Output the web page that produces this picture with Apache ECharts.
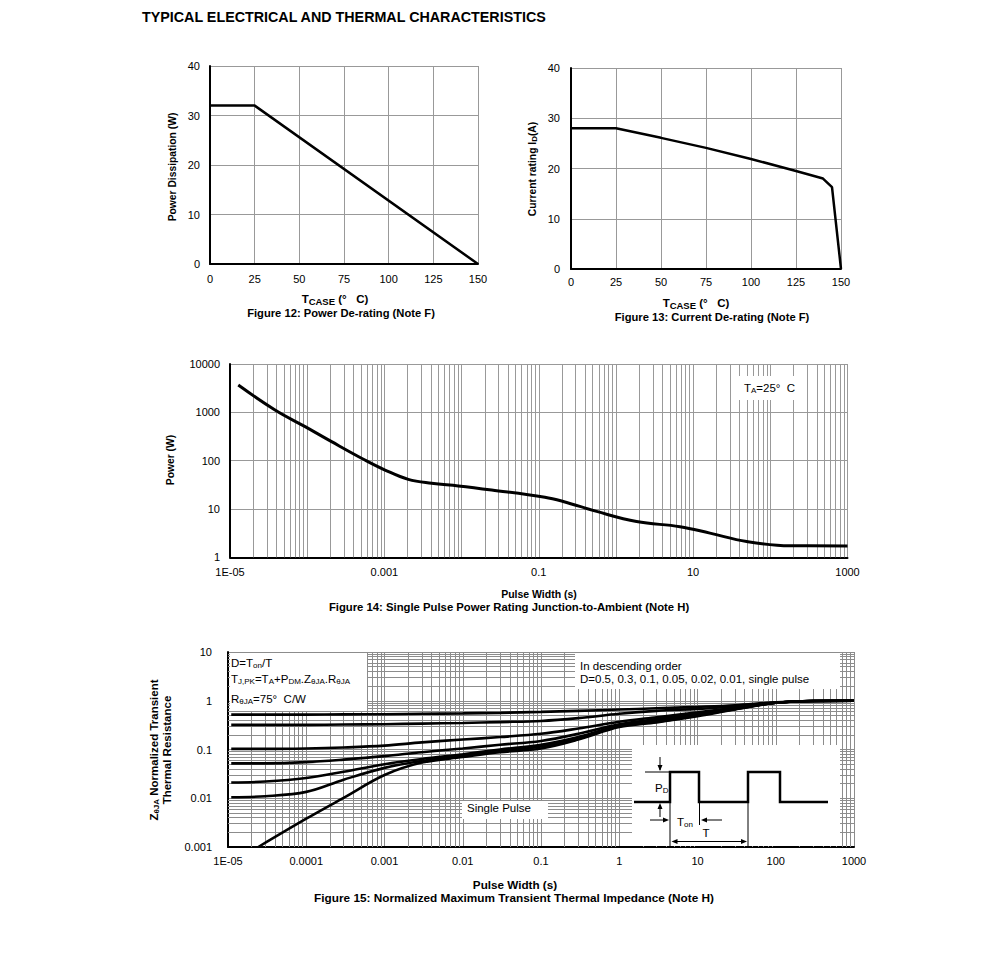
<!DOCTYPE html>
<html><head><meta charset="utf-8">
<script src="https://cdn.jsdelivr.net/npm/echarts@6/dist/echarts.min.js"></script>
<style>html,body{margin:0;padding:0;background:#fff}#c{width:991px;height:959px}</style>
</head><body><div id="c"></div>
<script>
// ---------- Figure 12: Power De-rating ----------
const fig12Temp = [0, 25, 150];
const fig12Power = [32, 32, 0];
// ---------- Figure 13: Current De-rating ----------
const fig13Temp = [0, 25, 50, 75, 100, 125, 140, 145, 150];
const fig13Current = [28, 28, 26.1, 24.1, 21.9, 19.5, 18.0, 16.3, 0];
// ---------- Figure 14: Single pulse power ----------
const fig14Width = [1.28e-5, 3.83e-5, 9.4e-5, 2.07e-4, 5.6e-4, 1.02e-3, 2.04e-3, 4.1e-3, 9.06e-3, 0.0245, 0.12, 0.207, 0.562, 1.85, 6.75, 16.5, 49.3, 180, 1000];
const fig14Power = [3670, 1117, 505, 247, 103, 64, 41, 34, 30, 24.7, 17.5, 14.3, 8.9, 5.5, 4.3, 3.16, 2.12, 1.73, 1.72];
const fig14XTickVals = [1e-5, 1e-3, 0.1, 10, 1000];
const fig14XTickText = ['1E-05', '0.001', '0.1', '10', '1000'];
const fig14YTickVals = [1, 10, 100, 1000, 10000];
const fig14YTickText = ['1', '10', '100', '1000', '10000'];
// ---------- Figure 15: Transient thermal impedance ----------
const fig15Width = [1.1e-5, 3e-5, 1e-4, 3e-4, 1e-3, 3e-3, 1e-2, 3e-2, 0.1, 0.3, 1, 3, 10, 30, 100, 300, 1000];
const fig15D050 = [0.52, 0.52, 0.52, 0.525, 0.53, 0.54, 0.55, 0.565, 0.59, 0.62, 0.66, 0.70, 0.75, 0.81, 0.93, 0.99, 1.0];
const fig15D030 = [0.32, 0.32, 0.32, 0.325, 0.33, 0.34, 0.35, 0.365, 0.385, 0.44, 0.54, 0.62, 0.68, 0.76, 0.91, 0.99, 1.0];
const fig15D010 = [0.103, 0.103, 0.105, 0.11, 0.12, 0.14, 0.16, 0.18, 0.21, 0.27, 0.37, 0.46, 0.58, 0.72, 0.91, 0.99, 1.0];
const fig15D005 = [0.052, 0.052, 0.055, 0.062, 0.073, 0.088, 0.105, 0.125, 0.15, 0.21, 0.33, 0.42, 0.55, 0.70, 0.91, 0.99, 1.0];
const fig15D002 = [0.021, 0.022, 0.026, 0.035, 0.05, 0.064, 0.08, 0.1, 0.125, 0.18, 0.31, 0.39, 0.52, 0.68, 0.91, 0.99, 1.0];
const fig15D001 = [0.0105, 0.011, 0.0135, 0.024, 0.042, 0.058, 0.074, 0.093, 0.115, 0.17, 0.30, 0.37, 0.50, 0.67, 0.91, 0.99, 1.0];
const fig15SingleWidth = [2.44e-5, 1e-4, 3e-4, 1e-3, 3e-3, 1e-2, 3e-2, 0.1, 0.3, 1, 3, 10, 30, 100, 300, 1000];
const fig15Single = [0.001, 0.0038, 0.0102, 0.03, 0.054, 0.07, 0.088, 0.105, 0.16, 0.29, 0.36, 0.48, 0.66, 0.91, 0.99, 1.0];
const fig15XTickVals = [1e-5, 1e-4, 1e-3, 1e-2, 0.1, 1, 10, 100, 1000];
const fig15XTickText = ['1E-05', '0.0001', '0.001', '0.01', '0.1', '1', '10', '100', '1000'];
const fig15YTickVals = [0.001, 0.01, 0.1, 1, 10];
const fig15YTickText = ['0.001', '0.01', '0.1', '1', '10'];

const FONT = '"Liberation Sans", Arial, Helvetica, sans-serif';
const GRID = '#999';
const zip = (a, b) => a.map((v, i) => [v, b[i]]);
const logFmt = (vals, texts) => v => {
  for (let i = 0; i < vals.length; i++) if (Math.abs(Math.log10(v) - Math.log10(vals[i])) < 1e-6) return texts[i];
  return '';
};
function minors(e0, e1) { const o = []; for (let e = e0; e < e1; e++) for (let m = 2; m <= 9; m++) o.push(m * Math.pow(10, e)); return o; }

const axisLine = { show: true, onZero: false, lineStyle: { color: '#000', width: 2 } };
const lbl = (margin, extra) => Object.assign({ color: '#000', fontSize: 11, fontFamily: FONT, margin: margin, interval: 0, hideOverlap: false, showMinLabel: true, showMaxLabel: true }, extra || {});
const split = c => ({ show: true, lineStyle: { color: c || GRID, width: 1 } });

const richSub = (size, bold, base) => ({
  sub: { fontSize: size, fontFamily: FONT, fontWeight: bold ? 'bold' : 'normal', verticalAlign: 'bottom', padding: [4, 0, 0, 0], fill: '#000' },
  n: { fontSize: base, fontFamily: FONT, fontWeight: bold ? 'bold' : 'normal', fill: '#000' }
});
function txt(x, y, text, o) {
  o = o || {};
  const size = o.size || 11;
  return { type: 'text', x: x, y: y, rotation: o.rot || 0, z: 20, silent: true,
    style: { text: text, align: o.align || 'center', verticalAlign: 'middle', fontFamily: FONT,
      fontSize: size, fontWeight: o.bold ? 'bold' : 'normal', fill: '#000',
      rich: richSub(o.sub || 8, o.bold, size) } };
}
const rect = (x, y, w, h) => ({ type: 'rect', z: 7, silent: true, shape: { x: x, y: y, width: w, height: h }, style: { fill: '#fff' } });
const line = (x1, y1, x2, y2, w) => ({ type: 'line', z: 20, silent: true, shape: { x1: x1, y1: y1, x2: x2, y2: y2 }, style: { stroke: '#000', lineWidth: w || 1 } });
function head(x, y, dir) {
  const L = 6, H = 2.5; let p;
  if (dir === 'down') p = [[x, y], [x - H, y - L], [x + H, y - L]];
  if (dir === 'up') p = [[x, y], [x - H, y + L], [x + H, y + L]];
  if (dir === 'right') p = [[x, y], [x - L, y - H], [x - L, y + H]];
  if (dir === 'left') p = [[x, y], [x + L, y - H], [x + L, y + H]];
  return { type: 'polygon', z: 20, silent: true, shape: { points: p }, style: { fill: '#000' } };
}

const curve = (xi, data, w, smooth) => ({ type: 'line', xAxisIndex: xi, yAxisIndex: xi, data: data, symbol: 'none', showSymbol: false,
  smooth: smooth || false, z: 8, lineStyle: { color: '#000', width: w }, silent: true });
const minorGrid = (xi, xs, ys, c) => ({ type: 'line', xAxisIndex: xi, yAxisIndex: xi, data: [], z: 1, silent: true,
  markLine: { silent: true, z: 1, precision: 12, symbol: ['none', 'none'], label: { show: false }, animation: false,
    lineStyle: { color: c, width: 1, type: 'solid' }, emphasis: { disabled: true },
    data: xs.map(v => ({ xAxis: v })).concat(ys.map(v => ({ yAxis: v }))) } });

const option = {
  animation: false,
  backgroundColor: '#fff',
  textStyle: { fontFamily: FONT },
  grid: [
    { left: 210, top: 66, width: 268, height: 198, show: false },
    { left: 571, top: 68, width: 270, height: 201, show: false },
    { left: 230, top: 364, width: 617.5, height: 193.3, show: false },
    { left: 228, top: 652, width: 626, height: 195, show: false }
  ],
  xAxis: [
    { gridIndex: 0, type: 'value', min: 0, max: 150, interval: 25, axisLine: axisLine, axisTick: { show: false }, axisLabel: lbl(9), splitLine: split() },
    { gridIndex: 1, type: 'value', min: 0, max: 150, interval: 25, axisLine: axisLine, axisTick: { show: false }, axisLabel: lbl(7), splitLine: split() },
    { gridIndex: 2, type: 'log', logBase: 10, min: 1e-5, max: 1000, interval: 1, axisLine: axisLine, axisTick: { show: false },
      axisLabel: lbl(9, { formatter: logFmt(fig14XTickVals, fig14XTickText) }), splitLine: split() },
    { gridIndex: 3, type: 'log', logBase: 10, min: 1e-5, max: 1000, interval: 1, axisLine: axisLine, axisTick: { show: false },
      axisLabel: lbl(8, { formatter: logFmt(fig15XTickVals, fig15XTickText) }), splitLine: split('#8c8c8c') }
  ],
  yAxis: [
    { gridIndex: 0, type: 'value', min: 0, max: 40, interval: 10, axisLine: axisLine, axisTick: { show: false }, axisLabel: lbl(10), splitLine: split() },
    { gridIndex: 1, type: 'value', min: 0, max: 40, interval: 10, axisLine: axisLine, axisTick: { show: false }, axisLabel: lbl(11), splitLine: split() },
    { gridIndex: 2, type: 'log', logBase: 10, min: 1, max: 10000, interval: 1, axisLine: axisLine, axisTick: { show: false },
      axisLabel: lbl(10, { formatter: logFmt(fig14YTickVals, fig14YTickText) }), splitLine: split() },
    { gridIndex: 3, type: 'log', logBase: 10, min: 0.001, max: 10, interval: 1, axisLine: axisLine, axisTick: { show: false },
      axisLabel: lbl(16, { formatter: logFmt(fig15YTickVals, fig15YTickText) }), splitLine: split('#8c8c8c') }
  ],
  series: [
    curve(0, zip(fig12Temp, fig12Power), 2.5),
    curve(1, zip(fig13Temp, fig13Current), 2.5),
    minorGrid(2, minors(-5, 3), [], GRID),
    curve(2, zip(fig14Width, fig14Power), 3, 0.4),
    minorGrid(3, minors(-5, 3), minors(-3, 1), '#8c8c8c'),
    curve(3, zip(fig15Width, fig15D050), 2.6, 0.35),
    curve(3, zip(fig15Width, fig15D030), 2.6, 0.35),
    curve(3, zip(fig15Width, fig15D010), 2.6, 0.35),
    curve(3, zip(fig15Width, fig15D005), 2.6, 0.35),
    curve(3, zip(fig15Width, fig15D002), 2.6, 0.35),
    curve(3, zip(fig15Width, fig15D001), 2.6, 0.35),
    curve(3, zip(fig15SingleWidth, fig15Single), 2.6, 0.35)
  ],
  graphic: { elements: [
    txt(142, 17, 'TYPICAL ELECTRICAL AND THERMAL CHARACTERISTICS', { align: 'left', bold: true, size: 14.3 }),
    // Fig 12
    txt(172, 167, 'Power Dissipation (W)', { bold: true, size: 10.3, rot: Math.PI / 2 }),
    txt(335, 299, '{n|T}{sub|CASE}{n| (°   C)}', { bold: true, size: 11.5, sub: 9.5 }),
    txt(341, 313, 'Figure 12: Power De-rating (Note F)', { bold: true, size: 11.2 }),
    // Fig 13
    txt(696, 303, '{n|T}{sub|CASE}{n| (°   C)}', { bold: true, size: 11.5, sub: 9.5 }),
    txt(532, 169, '{n|Current rating I}{sub|D}{n|(A)}', { bold: true, size: 10.3, rot: Math.PI / 2 }),
    txt(712, 317, 'Figure 13: Current De-rating (Note F)', { bold: true, size: 11.2 }),
    // Fig 14
    txt(170, 460, 'Power (W)', { bold: true, size: 10.3, rot: Math.PI / 2 }),
    txt(539, 594, 'Pulse Width (s)', { bold: true, size: 10.5 }),
    txt(509, 607, 'Figure 14: Single Pulse Power Rating Junction-to-Ambient (Note H)', { bold: true, size: 11.3 }),
    rect(739, 376, 62, 24),
    txt(744, 388, '{n|T}{sub|A}{n|=25°  C}', { align: 'left', size: 11.5 }),
    // Fig 15
    txt(154, 750, '{n|Z}{sub|θJA}{n| Normalized Transient}', { bold: true, size: 11.5, rot: Math.PI / 2 }),
    txt(167, 750, 'Thermal Resistance', { bold: true, size: 11.5, rot: Math.PI / 2 }),
    txt(515, 884, 'Pulse Width (s)', { bold: true, size: 11.7 }),
    txt(514, 898, 'Figure 15: Normalized Maximum Transient Thermal Impedance (Note H)', { bold: true, size: 11.8 }),
    rect(230, 653, 137, 58),
    txt(231, 663, '{n|D=T}{sub|on}{n|/T}', { align: 'left', size: 11.5 }),
    txt(231, 679, '{n|T}{sub|J,PK}{n|=T}{sub|A}{n|+P}{sub|DM}{n|.Z}{sub|θJA}{n|.R}{sub|θJA}', { align: 'left', size: 11.5 }),
    txt(231, 699, '{n|R}{sub|θJA}{n|=75°  C/W}', { align: 'left', size: 11.5 }),
    rect(575, 653, 265, 36),
    txt(580, 666, 'In descending order', { align: 'left', size: 11.5 }),
    txt(580, 679, 'D=0.5, 0.3, 0.1, 0.05, 0.02, 0.01, single pulse', { align: 'left', size: 11.5 }),
    rect(462, 801, 86, 18),
    txt(467, 808, 'Single Pulse', { align: 'left', size: 11.5 }),
    // inset: pulse train
    rect(632, 745, 208, 101),
    { type: 'polyline', z: 20, silent: true, shape: { points: [[634, 802], [670, 802], [670, 772], [699, 772], [699, 802], [748, 802], [748, 772], [780, 772], [780, 802], [828, 802]] },
      style: { stroke: '#000', lineWidth: 2.5, fill: null } },
    line(645, 772, 670, 772),
    line(660, 757, 660, 770), head(660, 771, 'down'),
    line(660, 817, 660, 805), head(660, 803, 'up'),
    txt(655, 788, '{n|P}{sub|D}', { align: 'left', size: 11.5 }),
    line(670, 802, 670, 847), line(699.5, 802, 699.5, 825), line(748, 802, 748, 847),
    line(650, 820, 664, 820), head(669, 820, 'right'),
    line(722, 820, 706, 820), head(701, 820, 'left'),
    txt(677, 822, '{n|T}{sub|on}', { align: 'left', size: 11.5 }),
    line(677, 841.5, 741, 841.5), head(671.5, 841.5, 'left'), head(747, 841.5, 'right'),
    txt(706, 833, 'T', { size: 11.5 })
  ] }
};
const chart = echarts.init(document.getElementById('c'), null, { renderer: 'svg', width: 991, height: 959 });
chart.setOption(option);
</script></body></html>
